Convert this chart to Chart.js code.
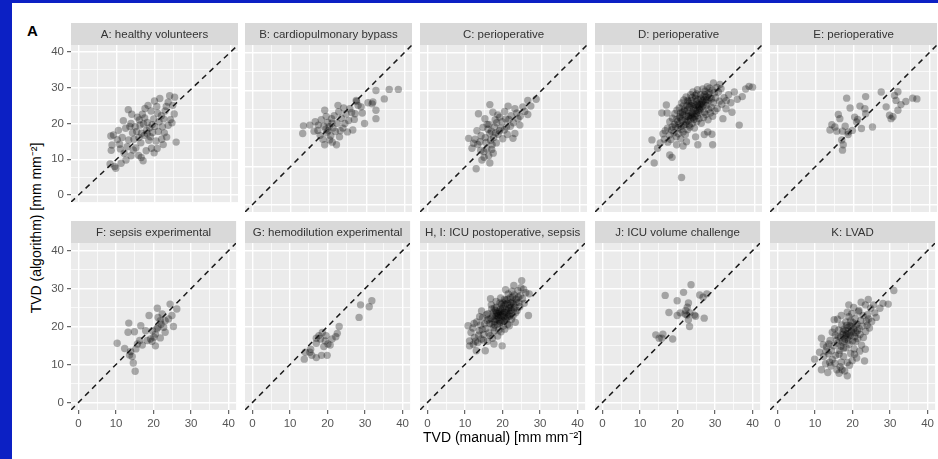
<!DOCTYPE html>
<html lang="en">
<head>
  <meta charset="UTF-8">
  <title>TVD algorithm vs manual</title>
  <script src="https://cdn.jsdelivr.net/npm/chart.js"></script>
  <style>
    body { margin: 0; background: #fff; width: 938px; height: 459px; overflow: hidden; position: relative; font-family: "Liberation Sans", Arial, sans-serif; }
    .band { position: absolute; background: #0c20c4; }
    .panel { position: absolute; }
    #ytitle { position: absolute; left: 35px; top: 228px; transform: translate(-50%, -50%) rotate(-90deg); white-space: nowrap; font-size: 14px; color: #000; }
    #tag { position: absolute; left: 27px; top: 22px; font-size: 15px; font-weight: bold; color: #000; }
  </style>
</head>
<body>
  <div class="band" style="left:0;top:0;width:12px;height:459px"></div>
  <div class="band" style="left:0;top:0;width:938px;height:3px"></div>
  <div id="tag">A</div>
  <div id="ytitle">TVD (algorithm) [mm mm⁻²]</div>

  <script>
    // axis setup shared by all facets
    const axisMin = -2, axisMax = 42;
    const majorTicks = [0, 10, 20, 30, 40];
    const gridTicks = [0, 5, 10, 15, 20, 25, 30, 35, 40];
    const xTitle = 'TVD (manual) [mm mm⁻²]';

    const panelLabels = [
      'A: healthy volunteers', 'B: cardiopulmonary bypass', 'C: perioperative', 'D: perioperative', 'E: perioperative',
      'F: sepsis experimental', 'G: hemodilution experimental', 'H, I: ICU postoperative, sepsis', 'J: ICU volume challenge', 'K: LVAD'
    ];

    // [manual, algorithm] pairs
    const panelA = [[8.3,8.7],[9.5,8.0],[9.8,7.5],[11.2,8.9],[12.5,9.8],[13.8,11],[12.8,13.5],[8.6,12.5],[8.8,14],[8.5,16.5],[9.2,16.8],[10.2,15.5],[10.8,14.2],[11.5,16.1],[11.8,20.8],[12.4,18.7],[13.1,23.9],[14,22.6],[13.5,19.2],[14.2,17.4],[14.6,15.6],[15.1,13.2],[15.8,11.1],[16.5,10.5],[17,9.6],[16.2,19.6],[15.5,21.8],[16.8,22.6],[17.5,24.2],[18.1,20.3],[17.9,18.1],[17.3,16.7],[16.6,17.3],[15.9,16.1],[18.5,15.3],[19.2,13.1],[20.7,13],[19.5,17.5],[20.1,19.2],[19.8,21.3],[19.1,23.5],[20.6,24.8],[21.4,27],[21.8,22.2],[21.2,20.5],[22.1,19.1],[22.6,17.4],[21.9,15.6],[22.3,14.1],[23.2,16.2],[23.6,19.5],[24.2,21.1],[23.6,26],[24,27.8],[25.3,27.4],[24.8,25.1],[25.2,22.7],[24.6,20.2],[25.7,14.8],[18.7,18.8],[17.1,19.9],[16.4,14.6],[14.9,19.1],[13.2,15.4],[12,11.7],[14.4,12.6],[18.9,16.3],[20.4,15.1],[21,17.8],[19.9,11.8],[17.8,12.4],[16,21],[18.3,25.1],[20,26.3],[22.8,23.5],[23.1,24.8],[15.3,17.8],[13.8,20],[10.5,18.1],[11,12.9],[19.4,19.7],[17.4,21.6],[22.4,21.3],[20.8,22.9],[18.1,17.2]];
    const panelB = [[13.4,20.7],[13.2,18.7],[15.1,20.9],[16.2,19.3],[17.3,20.9],[17.8,18.2],[18.1,22.3],[18.5,17.2],[19,24.8],[19,15.7],[19.3,19.8],[19.6,18.9],[19.9,19.4],[20.2,20.5],[19.8,21.6],[20.3,17],[20.8,22.6],[20.6,18.1],[21.2,20.1],[21.5,23.4],[21.8,19.2],[22.1,15.7],[22.5,26.1],[22.3,21.4],[22.9,17.8],[23.4,22.7],[23.8,20.1],[24.3,21.3],[24.6,23.8],[25,19.1],[25.6,25.2],[25.3,22.1],[26.4,19.6],[26.1,24.2],[26.8,22.4],[27.3,27.4],[27.4,27.1],[27,23.9],[27.8,26.1],[28.6,25.7],[29.5,21.3],[28.9,24.1],[30.4,26.8],[31.7,27],[31.5,26.5],[32.5,30],[32.5,24.8],[32.5,22.6],[34.7,27.8],[36,30.3],[38.4,30.3],[18.8,20.6],[20.9,21.4],[17.2,19.5],[16.5,21.8],[22.7,24.4],[24,25.4],[21,16.4],[19.4,23.2],[23.1,19.4]];
    const panelC = [[10.8,17.4],[11.7,14.8],[12.8,9.4],[14.3,11.7],[16.4,10.9],[17.3,13.5],[16.1,12.8],[14.8,13.9],[15.6,14.6],[13.2,15.8],[13.8,16.5],[12.5,17.2],[14.1,18.1],[15.2,17.6],[16.4,18.7],[16.8,19.3],[15.9,19.8],[17.4,17.6],[18.1,16.2],[18.6,18.5],[17.6,20.4],[16.2,21.1],[15.1,22.6],[13.4,23.9],[14.6,20.3],[16.4,26.3],[17.8,22.3],[18.5,23.6],[19,23],[19.6,21.8],[20.2,19.6],[20.8,20.4],[19.3,20.1],[21.4,22.4],[21.2,25.9],[22,23.4],[22.6,21.5],[23,25.2],[23.5,24.1],[24.3,20.9],[22.5,17.4],[23,18.7],[24.4,23.2],[25.1,25.7],[25.6,24.5],[26.4,27.4],[26.4,23.7],[27.2,25.9],[28.6,27.7],[20.3,24.5],[18.9,19.4],[17,15.7],[15.4,16.3],[14,14.2],[16.6,16.9],[19.8,17.3],[21,18.4],[20.6,22.5],[18.2,21.5],[13,19.4],[14.9,12.4],[16.9,14.5],[15.7,21.1],[17.2,24.3],[21.8,20.6],[23.8,22.6],[12.1,16.1],[17.9,18.8]];
    const panelD = [[19.2,20.5],[19.8,21.9],[20.4,22.8],[21.1,23.6],[21.7,22.4],[22.3,24.8],[22.9,25.6],[23.5,24.2],[24.1,26.3],[24.7,27.1],[25.3,25.9],[25.9,27.8],[26.5,28.4],[27.1,26.9],[27.7,29.1],[28.3,28.2],[28.9,30.1],[29.5,29.4],[30.1,30.8],[20.6,19.8],[21.4,20.9],[22,21.7],[22.6,23.1],[23.2,22.5],[23.8,23.9],[24.4,24.7],[25,23.4],[25.6,24.9],[26.2,25.8],[26.8,24.3],[27.4,26.1],[28,27.4],[28.6,25.6],[29.2,26.8],[18.4,22.7],[19,23.9],[19.6,24.8],[20.2,25.4],[20.8,26.7],[21.4,27.5],[22,28.3],[22.6,27.1],[23.2,28.9],[23.8,29.6],[24.4,28.7],[25,30.2],[17.6,18.3],[18.2,19.6],[18.8,18.9],[19.4,17.8],[20,18.6],[20.6,17.3],[21.2,19.1],[21.8,18.4],[22.4,19.7],[23,20.4],[23.6,21.3],[24.2,20.1],[24.8,21.8],[25.4,22.6],[26,21.4],[26.6,22.9],[27.2,23.7],[27.8,22.3],[28.4,24.1],[29,23.2],[29.6,24.6],[30.2,25.3],[30.8,27.2],[31.4,26.4],[32,28.1],[32.6,27.3],[33.2,28.9],[21,24.2],[21.6,25.1],[22.2,26],[22.8,26.6],[23.4,27.3],[24,25.2],[24.6,26.1],[25.2,27.6],[25.8,28.9],[26.4,30.4],[27,29.8],[27.6,31],[28.2,30.6],[20.1,21.2],[20.7,20.6],[19.5,22.4],[18.9,21.1],[18.3,20.4],[17.7,21.8],[17.1,20.1],[16.5,19.4],[15.9,18.6],[16.3,17.2],[17.2,16.4],[18,17.1],[22.5,22.1],[23.1,23.5],[23.7,22.8],[24.3,23.1],[24.9,24.6],[25.5,25.4],[26.1,26.7],[26.7,27.5],[27.3,28.3],[29.8,28.1],[30.5,29.6],[31.2,30.5],[20.8,7.1],[13.6,10.9],[13,17],[15.2,16.2],[17.7,13],[18.3,12.4],[19.5,15.7],[21.2,15.4],[22.1,16.5],[25.1,15.7],[29,15.7],[27.7,19.1],[28.8,18.5],[36,20.9],[31.7,22.6],[32.5,25.2],[34.1,24.3],[34.7,29.6],[35.5,27.7],[37.7,30.4],[39.5,30.9],[38.6,31.1],[15.6,24.1],[17,24.1],[16.8,26.2],[14.5,14.8],[24.5,17.8],[26.8,18.4],[33.8,26.8],[30.9,31.6],[29.2,32],[36.8,28.4],[21.5,24.6],[22.1,23.3],[22.7,24.1],[23.3,26.1],[23.9,25.7],[24.5,27.9],[25.1,26.4],[25.7,26.3],[26.3,27.2],[26.9,28.9],[27.5,27.6],[28.1,29.4],[20.3,23.1],[20.9,22.2],[21.9,21.1],[23.5,23.2],[24.1,22.4],[24.7,23.9],[25.3,24.3],[25.9,25.2],[26.5,26.2],[21.2,25.9],[22.4,27.4],[23.6,28.2],[24.8,29.1],[19.9,20.2],[20.5,24.1],[22.8,20.9],[27.9,25.1],[28.7,27.8]];
    const panelE = [[18.2,28],[23.2,28.4],[27.3,29.6],[31.7,29.7],[35.6,28],[36.7,27.8],[30.8,28.7],[31.2,27.4],[32.5,26.3],[33.8,27.1],[28.6,25.7],[29.5,23.5],[29.9,22.6],[31.7,24.8],[19.1,25.4],[21.7,25.9],[23,25.2],[23.2,23.9],[20.3,23],[21.1,22.4],[16,23.7],[16.4,22.6],[14.3,21],[15.1,20.4],[13.8,19.6],[15.6,19.3],[17.1,19.3],[18.6,19.1],[19.7,19.5],[18.6,18.4],[16.9,17],[17.3,15.7],[17.1,14.3],[22.1,20],[25,20.4],[20.8,21.7],[17.8,20.6],[30.4,23.1]];
    const panelF = [[10.3,15.6],[13.4,20.9],[13.2,18.5],[14.9,18.6],[12.3,14.2],[13.6,12.5],[14.3,12.1],[14.6,10.4],[15.1,8.2],[15.3,14.1],[16.3,16.3],[16.6,20.2],[18.8,22.9],[17.9,18.9],[17,15.1],[19.7,18.9],[19.2,16.7],[19.6,16.1],[20.5,14.9],[21,24.8],[21.2,22.4],[22.3,23.3],[21.8,21.5],[21.2,19.8],[22.7,19.8],[23.1,21.5],[24,22],[24.4,25.9],[24.9,22.9],[25.3,20],[26.2,24.6],[20.5,18],[20.1,17.2],[21.8,17],[23.1,18.5],[18.3,16.3],[15.7,15.4],[13.9,13.4],[20.9,19.4],[22,20.6]];
    const panelG = [[31.8,26.8],[28.8,25.7],[31.1,25.2],[28.4,22.4],[23.1,20],[22.6,18.2],[21.2,16.7],[20.7,15.1],[22.2,17.3],[19.6,17.6],[18.6,18.4],[18.1,16.7],[17,16.9],[17,15.6],[19,14.7],[19.9,12.4],[18.4,12.4],[17,11.8],[15.8,12.4],[15.3,13.2],[14.1,13.2],[13.8,11.4],[15.5,14],[19.4,16.2],[20.1,15.4],[17.7,17.6]];
    const panelH = [[10.8,20.2],[11.2,16.2],[11.2,14.9],[11.6,18.4],[12.1,19.6],[12.5,17.1],[13,13.6],[13.1,21.2],[13.4,15.8],[13.8,18.9],[14.1,20.4],[14.3,16.7],[14.7,22.3],[15,17.9],[15.4,13.6],[15.6,19.5],[15.9,21.6],[16.1,23.4],[16.3,18.3],[16.6,20.8],[16.9,22.1],[17.1,24.6],[17.3,16.9],[17.7,15.4],[17.6,19.7],[17.9,21.3],[18.2,23],[18.4,25.1],[18.6,20.5],[18.9,22.4],[19.1,24],[19.3,26.2],[19.6,18.6],[19.9,14.9],[19.8,21.7],[20.1,23.3],[20.3,25.3],[20.5,27.1],[20.8,29.7],[20.7,22.2],[21,24.4],[21.2,26.1],[21.4,20.6],[21.6,23.1],[21.9,25.6],[22.1,27.6],[22.3,24.3],[22.6,26.5],[22.8,22.8],[23,30.8],[23.1,28.3],[23.3,25.1],[23.6,27.2],[23.9,24.2],[24.1,29.4],[24.4,26.3],[24.7,28.1],[25.1,32.1],[25.3,27.3],[25.6,29.8],[26.2,28.9],[26.9,22.9],[27.1,28.6],[17.4,22.7],[18.1,24.2],[18.8,23.4],[19.4,22.9],[19.2,20.8],[20.4,21.4],[20,24.7],[21.3,22.5],[21.7,24.9],[22.4,21.9],[15.2,20.7],[14.6,19.2],[13.6,17.7],[12.8,16.1],[12.2,15.3],[16.7,17.6],[17.8,18.8],[18.5,21.9],[19.7,25.8],[20.9,26.9],[22,23.5],[22.9,26],[23.5,23.6],[24.6,25.2],[16.4,21.9],[15.7,23.1],[17,25.7],[18.3,26.6],[19.5,27.5],[21.5,28.6],[22.5,29.3],[24.2,27.7],[25.8,26.1],[14.9,16.4],[16,16.1],[18.7,17.5],[20.6,19.3],[21.8,20.2],[23.4,21.1],[13.9,22.6],[12.4,20.8],[14.4,24.1],[16.8,27.3],[19,19.1],[20.2,20.1],[17.2,20.6],[18,22],[19.9,22.8],[21.1,23.7],[22.2,25],[23.7,26.4],[24.9,30.2],[17.5,23.8],[20.5,23.8],[19.4,24.5],[18.6,22.8],[19.3,23.6],[19.8,24.1],[20.4,22.6],[21,21.8],[21.6,24.2],[22.2,26.2],[20.7,25.8],[19.1,21.5],[18.4,23.6],[17.8,24.8],[21.9,22.7],[23,24.6],[20.1,26.2],[19.6,21.1],[17.9,20.4],[21.4,27.2],[22.7,27.8]];
    const panelJ = [[23.6,31],[21.6,29],[16.7,28.2],[19.9,26.8],[22.9,26.2],[22.6,25.1],[25.9,28.3],[26.8,27.7],[27.8,28.6],[17.7,23.7],[19.9,22.9],[20.7,23.6],[22.2,24.2],[22.5,23],[23.3,23.6],[24.5,23],[24.8,22.7],[22.9,21.8],[23.2,20],[27.1,22.2],[22,23.3],[14.2,17.8],[15.1,16.9],[16.1,18],[15.8,16.9],[18.7,16.7]];
    const panelK = [[9.9,11.4],[11.2,13.2],[11.7,8.6],[11.7,16.9],[12.3,12.1],[12.8,10.2],[13.4,7.9],[13.1,14.6],[13.6,12.8],[14,16.3],[14.2,9.6],[14.6,11.3],[15.1,21.8],[15,14.9],[15.4,17.7],[15.5,12.4],[15.8,8.6],[16.1,15.6],[16.4,7.7],[16.3,19.1],[16.6,13.7],[16.8,17.2],[17,10.6],[17.1,20.4],[17.3,15.9],[17.5,18.6],[17.6,12.1],[17.7,19.3],[17.9,8.3],[18,16.7],[18.2,21.2],[18.3,14.4],[18.5,18.1],[18.6,7],[18.6,10.5],[18.7,17.1],[18.8,19.7],[19,25.7],[19,22.6],[19.1,15.3],[19.3,20.2],[19.4,17.6],[19.5,12.9],[19.7,18.8],[19.8,23.4],[20,16.2],[20.1,21],[20.3,19.3],[20.4,14.1],[20.6,17.3],[20.7,22.1],[20.9,18.4],[21.1,11.7],[21.2,20.7],[21.4,16.8],[21.6,23.9],[21.7,24.2],[21.8,19.4],[22,17.9],[22.2,21.6],[22.4,15.1],[22.6,20.1],[22.8,22.9],[23.2,10.9],[23.4,14],[23.4,25.7],[23.5,18.7],[23.7,21.4],[24,23.1],[24.3,22],[24.5,19.6],[24.8,24.8],[25.1,21.3],[25.6,25.7],[25.9,23.6],[26.3,22.4],[27.3,24.8],[28.1,26.1],[29.5,25.9],[31,29.5],[16.9,14.8],[17.4,17.9],[18.1,18.9],[18.9,16.4],[19.6,19.9],[20.2,18.3],[20.8,16],[21.3,18.9],[18.4,20.3],[17.8,16.1],[16.2,17.4],[15.7,16.3],[15.2,19.4],[14.6,18.5],[13.7,15.4],[12.9,13.5],[12.2,15.2],[13.9,10.6],[15.3,10.3],[16.7,9.4],[17.2,8.6],[19.2,9.8],[19.9,11],[20.5,12.7],[21.9,13.5],[16,21.9],[17,22.9],[18.6,23.8],[20.3,25],[22.3,26.4],[24.2,27.1],[19.5,21.5],[20.9,20.3],[18.2,17.7],[19.1,18],[17.6,14.3],[16.4,12.7],[14.4,13.6],[22.9,17.1],[23.9,20.3]];

    const panelData = [panelA, panelB, panelC, panelD, panelE, panelF, panelG, panelH, panelJ, panelK];

    // facet layout (page pixels)
    const colLeft = [71, 245, 420, 595, 770];
    const rowTop = [23, 221];
    const stripH = 22;
    const plotSize = 167;

    Chart.defaults.font.family = '"Liberation Sans", Arial, sans-serif';

    // grey panel background + facet strip
    const facetStrip = {
      id: 'facetStrip',
      beforeDraw(chart, args, opts) {
        const { ctx, chartArea: a } = chart;
        ctx.save();
        ctx.fillStyle = '#EBEBEB';
        ctx.fillRect(a.left, a.top, a.right - a.left, a.bottom - a.top);
        ctx.fillStyle = '#D9D9D9';
        ctx.fillRect(a.left, a.top - stripH, a.right - a.left, stripH);
        ctx.fillStyle = '#333';
        ctx.font = '11.5px "Liberation Sans", Arial, sans-serif';
        ctx.textAlign = 'center';
        ctx.textBaseline = 'middle';
        ctx.fillText(opts.text, (a.left + a.right) / 2, a.top - stripH / 2 + 1);
        ctx.restore();
      }
    };

    function axisOptions(show, size, title) {
      const isMajor = c => majorTicks.includes(c.tick.value);
      return {
        type: 'linear',
        min: axisMin,
        max: axisMax,
        afterBuildTicks: s => { s.ticks = gridTicks.map(v => ({ value: v })); },
        afterFit: s => { if (s.isHorizontal()) s.height = size; else s.width = size; },
        border: { display: false },
        grid: {
          color: '#fff',
          lineWidth: c => isMajor(c) ? 1.4 : 0.7,
          drawTicks: show,
          tickLength: 4,
          tickWidth: 1,
          tickColor: c => isMajor(c) ? '#444' : 'rgba(0,0,0,0)'
        },
        ticks: {
          display: show,
          autoSkip: false,
          maxRotation: 0,
          padding: 3,
          color: '#555',
          font: { size: 11.5 },
          callback: v => majorTicks.includes(v) ? String(v) : ''
        },
        title: title
          ? { display: true, text: title, color: '#000', font: { size: 14 }, padding: { top: 0, bottom: 2 } }
          : { display: false }
      };
    }

    panelData.forEach((pts, i) => {
      const col = i % 5, row = Math.floor(i / 5);
      const yAxisW = col === 0 ? 45 : 0;
      const xAxisH = row === 1 ? (i === 7 ? 39 : 24) : 0;
      const w = plotSize + yAxisW;
      const h = stripH + plotSize + xAxisH;

      const box = document.createElement('div');
      box.className = 'panel';
      box.style.left = (colLeft[col] - yAxisW) + 'px';
      box.style.top = rowTop[row] + 'px';
      const canvas = document.createElement('canvas');
      canvas.width = w;
      canvas.height = h;
      box.appendChild(canvas);
      document.body.appendChild(box);

      new Chart(canvas, {
        type: 'scatter',
        data: {
          datasets: [
            {
              // y = x reference across the panel
              type: 'line',
              data: [{ x: axisMin, y: axisMin }, { x: axisMax, y: axisMax }],
              borderColor: '#1a1a1a',
              borderWidth: 1.5,
              borderDash: [5.5, 4.5],
              pointRadius: 0,
              fill: false,
              order: 0
            },
            {
              data: pts.map(([x, y]) => ({ x, y })),
              backgroundColor: 'rgba(0,0,0,0.3)',
              borderWidth: 0,
              pointRadius: 3.7,
              order: 1
            }
          ]
        },
        options: {
          responsive: false,
          animation: false,
          events: [],
          layout: { padding: { top: stripH, left: 0, right: 0, bottom: 0 }, autoPadding: false },
          plugins: {
            legend: { display: false },
            tooltip: { enabled: false },
            facetStrip: { text: panelLabels[i] }
          },
          scales: {
            x: axisOptions(row === 1, xAxisH, i === 7 ? xTitle : null),
            y: axisOptions(col === 0, yAxisW, null)
          }
        },
        plugins: [facetStrip]
      });
    });
  </script>
</body>
</html>
